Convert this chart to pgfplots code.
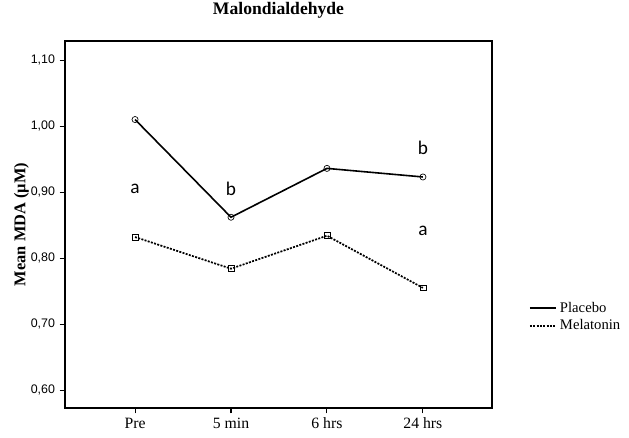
\documentclass[border=0pt]{standalone}
\usepackage{fontspec}
\setmainfont{Liberation Serif}
\newfontfamily\tickfont{Liberation Sans}
\newfontfamily\letterfont{Carlito}
\usepackage{pgfplots}
\pgfplotsset{compat=1.18}
\begin{document}
\begin{tikzpicture}
\useasboundingbox (-48.75pt,-22.5pt) rectangle (423pt,306pt);
\begin{axis}[
  at={(0pt,0pt)}, anchor=south west,
  scale only axis, width=320.25pt, height=275.25pt,
  xmin=-0.73, xmax=3.72, ymin=0.573, ymax=1.129,
  xtick={0,1,2,3}, xticklabels={Pre,5 min,6 hrs,24 hrs},
  ytick={0.6,0.7,0.8,0.9,1.0,1.1},
  yticklabel style={font=\tickfont\fontsize{9.3}{10}\selectfont, /pgf/number format/.cd, fixed, fixed zerofill, precision=2, use comma},
  /pgf/number format/assume math mode=true,
  xticklabel style={font=\fontsize{11.8}{13}\selectfont},
  tick align=outside, xtick pos=bottom, ytick pos=left,
  major tick length=4pt,
  tick style={black, line width=0.8pt},
  axis line style={line width=1.4pt},
  title={\textbf{Malondialdehyde}},
  title style={font=\fontsize{13.2}{15}\selectfont, at={(axis description cs:0.5,1.063)}, anchor=center},
  ylabel={\textbf{Mean MDA (µM)}},
  ylabel style={font=\fontsize{12.3}{14}\selectfont, at={(axis description cs:-0.102,0.5)}, anchor=center},
  legend style={at={(1.083,0.30)}, anchor=north west, draw=none, font=\fontsize{11}{12.5}\selectfont, row sep=0pt, inner sep=1pt},
  legend cell align=left,
  legend image code/.code={\draw[#1] (0cm,0cm) -- (0.7cm,0cm);},
  clip=false,
]
\addplot[black, line width=1.2pt, mark=o, mark size=2.3pt, mark options={solid, line width=0.5pt, fill=white}]
  coordinates {(0,1.010) (1,0.862) (2,0.936) (3,0.923)};
\addlegendentry{Placebo}
\addplot[black, line width=1.3pt, dash pattern=on 1.5pt off 1pt, mark=square, mark size=2.2pt, mark options={solid, line width=0.5pt, fill=white}]
  coordinates {(0,0.832) (1,0.784) (2,0.834) (3,0.755)};
\addlegendentry{Melatonin}
\node[font=\letterfont\fontsize{14.5}{16}\selectfont] at (axis cs:0,0.905) {a};
\node[font=\letterfont\fontsize{14.5}{16}\selectfont] at (axis cs:1,0.905) {b};
\node[font=\letterfont\fontsize{14.5}{16}\selectfont] at (axis cs:3,0.967) {b};
\node[font=\letterfont\fontsize{14.5}{16}\selectfont] at (axis cs:3,0.842) {a};
\end{axis}
\end{tikzpicture}
\end{document}
